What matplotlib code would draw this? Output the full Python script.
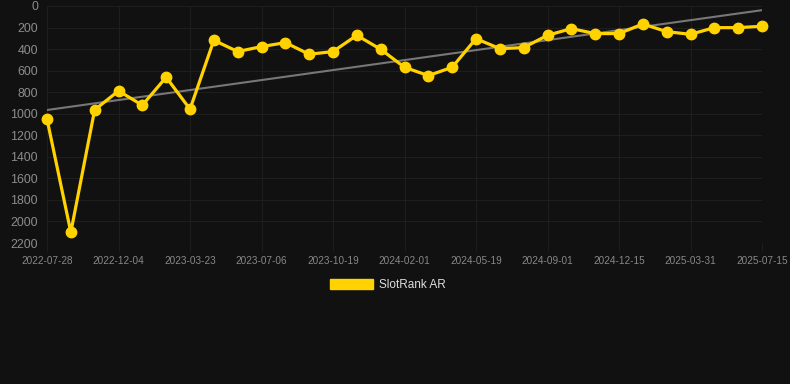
import matplotlib.pyplot as plt
import matplotlib.patches as mpatches
import numpy as np

# Datos (rango, menor = mejor)
tick_labels = ["2022-07-28", "2022-12-04", "2023-03-23", "2023-07-06", "2023-10-19",
               "2024-02-01", "2024-05-19", "2024-09-01", "2024-12-15", "2025-03-31", "2025-07-15"]
rank = [1050, 2100, 964, 788, 921, 661, 958, 318, 423, 377,
        340, 448, 423, 272, 402, 569, 646, 569, 303, 396,
        386, 272, 210, 256, 256, 167, 238, 263, 201, 201, 188]

x = np.arange(len(rank))
coef = np.polyfit(x, rank, 1)
trend = np.polyval(coef, x)

bg = '#111111'
fig = plt.figure(figsize=(7.9, 3.84), dpi=100, facecolor=bg)
ax = fig.add_axes([47/790, 1 - 243/384, 715/790, 237/384])
ax.set_facecolor(bg)

ax.plot(x, trend, color='#777777', linewidth=1.5, zorder=2)
ax.plot(x, rank, color='#FFD200', linewidth=2.3, marker='o', markersize=7.5,
        clip_on=False, zorder=3)

ax.set_xlim(0, len(rank) - 1)
ax.set_ylim(2200, 0)
ax.set_yticks(range(0, 2201, 200))
ax.set_xticks(x[::3])
ax.set_xticklabels(tick_labels)

ax.grid(True, color='#1e1e1e', linewidth=0.8)
for s in ax.spines.values():
    s.set_visible(False)
ax.tick_params(axis='x', colors='#1e1e1e', labelcolor='#888888', labelsize=7.2,
               length=6, width=0.8, pad=3)
ax.tick_params(axis='y', colors='#8c8c8c', labelsize=8.9, length=0, pad=6.5)
for lab in ax.get_xticklabels() + ax.get_yticklabels():
    lab.set_family('Liberation Sans')

handle = mpatches.Patch(color='#FFD200', label='SlotRank AR')
leg = fig.legend(handles=[handle], loc='center', bbox_to_anchor=(388/790, 1 - 285/384),
                 frameon=False, handlelength=3.6, handleheight=1.0, handletextpad=0.5,
                 prop={'family': 'Liberation Sans', 'size': 8.5})
for t in leg.get_texts():
    t.set_color('#dddddd')

fig.savefig('out.png', dpi=100, facecolor=bg)
